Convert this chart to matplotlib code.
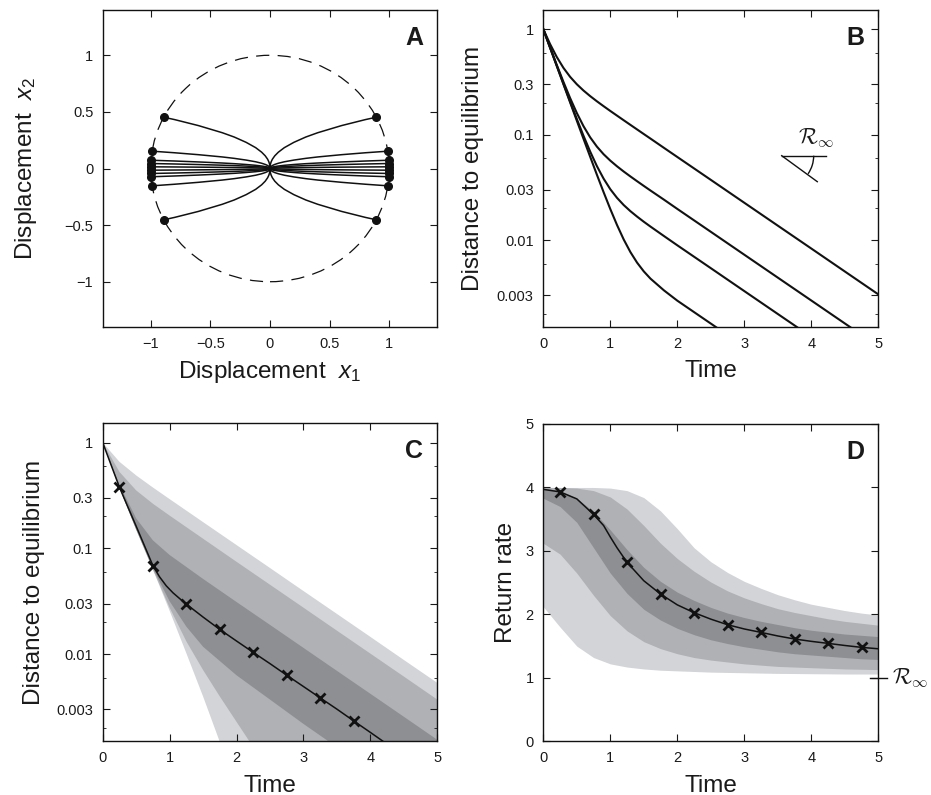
import matplotlib
matplotlib.use('Agg')
import matplotlib.pyplot as plt
from matplotlib.patches import Circle, Arc
from matplotlib.ticker import FixedLocator, NullFormatter

plt.rcParams['font.family'] = ['Liberation Sans', 'DejaVu Sans']
plt.rcParams['mathtext.fontset'] = 'custom'
plt.rcParams['mathtext.rm'] = 'Liberation Sans'
plt.rcParams['mathtext.it'] = 'Liberation Sans:italic'
plt.rcParams['lines.scale_dashes'] = False

# ---------------- Panel A data (upper-right quadrant; mirrored) ----------------
a_x1 = [0.8, 0.6, 0.4, 0.3, 0.2, 0.12, 0.07, 0.04, 0.02, 0.01, 0.004, 0.001, 0.0002, 0.0]
a_start_x = [0.891, 0.988, 0.997, 0.999, 1.0]
a_start_y = [0.453, 0.153, 0.073, 0.044, 0.015]
a_curve1 = [0.432, 0.379, 0.316, 0.278, 0.231, 0.184, 0.144, 0.112, 0.082, 0.060, 0.040, 0.0213, 0.0103, 0.0]
a_curve2 = [0.139, 0.122, 0.102, 0.0896, 0.0744, 0.0593, 0.0464, 0.0361, 0.0264, 0.0193, 0.0129, 0.0069, 0.0033, 0.0]
a_curve3 = [0.0661, 0.058, 0.0484, 0.0426, 0.0354, 0.0282, 0.0220, 0.0171, 0.0126, 0.0092, 0.0061, 0.0033, 0.0016, 0.0]
a_curve4 = [0.0399, 0.035, 0.0292, 0.0257, 0.0213, 0.0170, 0.0133, 0.0103, 0.0076, 0.0055, 0.0037, 0.0020, 0.0010, 0.0]
a_curve5 = [0.0136, 0.0119, 0.0100, 0.0088, 0.0073, 0.0058, 0.0045, 0.0035, 0.0026, 0.0019, 0.0013, 0.0007, 0.0003, 0.0]
a_curves = [a_curve1, a_curve2, a_curve3, a_curve4, a_curve5]
a_ticks = [-1, -0.5, 0, 0.5, 1]
a_ticklabels = ['\u22121', '\u22120.5', '0', '0.5', '1']

# ---------------- Panel B data ----------------
b_t = [0, 0.1, 0.2, 0.3, 0.4, 0.5, 0.6, 0.7, 0.8, 0.9, 1.0, 1.1, 1.2, 1.3, 1.4, 1.5, 1.6, 1.8,
       2.0, 2.5, 3.0, 3.5, 4.0, 4.5, 5.0]
b_d1 = [1, 0.7248, 0.5463, 0.4302, 0.3534, 0.3006, 0.2619, 0.2318, 0.2071, 0.1861, 0.1677, 0.1515,
        0.1369, 0.1238, 0.1120, 0.1013, 0.0917, 0.0750, 0.0614, 0.03727, 0.0226, 0.01371, 0.00832,
        0.005044, 0.003059]
b_d2 = [1, 0.6761, 0.4603, 0.3170, 0.2224, 0.1605, 0.1203, 0.0942, 0.0770, 0.0652, 0.0567, 0.0501,
        0.0447, 0.04015, 0.03617, 0.03265, 0.02951, 0.0242, 0.01976, 0.01199, 0.00727, 0.004409,
        0.002675, 0.001622, 0.000984]
b_d3 = [1, 0.6715, 0.4516, 0.3045, 0.2062, 0.1409, 0.0975, 0.0690, 0.0503, 0.03826, 0.03038, 0.02516,
        0.0215, 0.01881, 0.0167, 0.01493, 0.01343, 0.01094, 0.00893, 0.00542, 0.003286, 0.001993,
        0.001209, 0.000733, 0.000445]
b_d4 = [1, 0.6704, 0.4495, 0.3014, 0.2023, 0.1358, 0.09135, 0.0616, 0.04168, 0.02848, 0.0197, 0.01392,
        0.01014, 0.00770, 0.00611, 0.00505, 0.00431, 0.00334, 0.002666, 0.001617, 0.000981, 0.000595,
        0.000361, 0.000219, 0.000133]
log_ticks = [0.003, 0.01, 0.03, 0.1, 0.3, 1]
log_ticklabels = ['0.003', '0.01', '0.03', '0.1', '0.3', '1']
log_minor = [0.002, 0.006, 0.02, 0.06, 0.2, 0.6]
time_ticks = [0, 1, 2, 3, 4, 5]

# ---------------- Panel C data ----------------
c_up_t = [0, 0.25, 0.5, 0.75, 1, 1.5, 2, 2.5, 3, 3.5, 4, 4.5, 5]
c_up3 = [1, 0.658, 0.489, 0.376, 0.292, 0.177, 0.1074, 0.0652, 0.0395, 0.0240, 0.01456, 0.00881, 0.00535]
c_up2 = [1, 0.528, 0.353, 0.264, 0.204, 0.1233, 0.0746, 0.0453, 0.0275, 0.01667, 0.01012, 0.00614, 0.00372]
c_up1 = [1, 0.400, 0.192, 0.119, 0.0865, 0.0514, 0.0311, 0.0189, 0.01146, 0.00695, 0.00422, 0.00256, 0.00155]
c_lo1_t = [0, 0.25, 0.5, 0.75, 1, 1.25, 1.5, 2, 2.5, 3, 3.5, 5]
c_lo1 = [1, 0.372, 0.151, 0.0646, 0.0316, 0.0182, 0.01175, 0.00631, 0.00372, 0.00219, 0.00132, 0.0003]
c_lo2_t = [0, 0.25, 0.5, 0.75, 1, 1.25, 1.5, 1.75, 2.0, 2.25, 5]
c_lo2 = [1, 0.372, 0.151, 0.0631, 0.0275, 0.0132, 0.00708, 0.00398, 0.00229, 0.00132, 0.0001]
c_lo3_t = [0, 0.25, 0.5, 0.75, 1, 1.25, 1.5, 1.75, 1.85, 5]
c_lo3 = [1, 0.372, 0.151, 0.0631, 0.0257, 0.0102, 0.00398, 0.00148, 0.001, 0.00001]
c_med_t = [0, 0.25, 0.5, 0.75, 0.85, 0.95, 1.05, 1.15, 1.25, 1.5, 1.75, 2.0, 2.25, 2.5, 2.75, 3.0,
           3.25, 3.5, 3.75, 4.0, 4.25]
c_med = [1, 0.378, 0.162, 0.0686, 0.0537, 0.0442, 0.0380, 0.0335, 0.0297, 0.0224, 0.0171, 0.0133,
         0.01038, 0.00813, 0.00632, 0.00494, 0.00386, 0.00302, 0.00234, 0.00182, 0.00141]
c_mark_t = [0.25, 0.75, 1.25, 1.75, 2.25, 2.75, 3.25, 3.75]
c_mark = [0.378, 0.0686, 0.0297, 0.0171, 0.01038, 0.00632, 0.00386, 0.00234]

# ---------------- Panel D data ----------------
d_t = [0, 0.25, 0.5, 0.75, 1.0, 1.25, 1.5, 1.75, 2.0, 2.25, 2.5, 2.75, 3.0, 3.25, 3.5, 3.75, 4.0,
       4.25, 4.5, 4.75, 5.0]
d_up3 = [4.0, 4.0, 4.0, 4.0, 3.99, 3.95, 3.84, 3.63, 3.35, 3.05, 2.83, 2.66, 2.52, 2.41, 2.31, 2.23,
         2.16, 2.11, 2.06, 2.02, 1.99]
d_up2 = [4.0, 4.0, 3.99, 3.95, 3.85, 3.66, 3.40, 3.12, 2.88, 2.68, 2.51, 2.37, 2.26, 2.17, 2.09, 2.03,
         1.98, 1.93, 1.89, 1.86, 1.83]
d_up1 = [3.99, 3.95, 3.83, 3.62, 3.33, 3.02, 2.74, 2.52, 2.35, 2.22, 2.11, 2.02, 1.95, 1.89, 1.84, 1.79,
         1.75, 1.72, 1.69, 1.67, 1.65]
d_lo1 = [3.83, 3.70, 3.45, 3.05, 2.65, 2.33, 2.08, 1.91, 1.78, 1.68, 1.60, 1.54, 1.49, 1.45, 1.41, 1.38,
         1.36, 1.34, 1.32, 1.30, 1.29]
d_lo2 = [3.12, 2.95, 2.65, 2.30, 1.98, 1.74, 1.57, 1.46, 1.38, 1.32, 1.28, 1.25, 1.22, 1.20, 1.18, 1.17,
         1.16, 1.15, 1.14, 1.135, 1.13]
d_lo3 = [2.12, 1.80, 1.50, 1.32, 1.22, 1.17, 1.14, 1.12, 1.11, 1.10, 1.09, 1.085, 1.08, 1.075, 1.07,
         1.068, 1.065, 1.063, 1.06, 1.06, 1.06]
d_med_t = [0, 0.25, 0.5, 0.75, 0.9, 1.0, 1.1, 1.25, 1.5, 1.75, 2.0, 2.25, 2.5, 2.75, 3.0, 3.25, 3.5,
           3.75, 4.0, 4.25, 4.5, 4.75, 5.0]
d_med = [3.97, 3.93, 3.82, 3.575, 3.40, 3.22, 3.05, 2.82, 2.53, 2.32, 2.15, 2.027, 1.925, 1.837, 1.77,
         1.716, 1.66, 1.612, 1.575, 1.543, 1.51, 1.48, 1.458]
d_mark_t = [0.25, 0.75, 1.25, 1.75, 2.25, 2.75, 3.25, 3.75, 4.25, 4.75]
d_mark = [3.93, 3.575, 2.82, 2.32, 2.027, 1.837, 1.716, 1.612, 1.543, 1.48]
r_inf = 1.0

LIGHT = '#d3d4d7'
MID = '#b0b1b4'
DARK = '#8e8f92'
TXT = '#1a1a1a'

fig = plt.figure(figsize=(9.31, 7.95), dpi=100)
W, H = 931.0, 795.0
axA = fig.add_axes([103 / W, 1 - 327 / H, 334 / W, 317 / H])
axB = fig.add_axes([543.3 / W, 1 - 327 / H, 335 / W, 317 / H])
axC = fig.add_axes([102.7 / W, 1 - 741.3 / H, 334.6 / W, 318 / H])
axD = fig.add_axes([543.3 / W, 1 - 741.3 / H, 335 / W, 317.3 / H])


def style(ax):
    ax.tick_params(which='both', direction='in', top=True, right=True, labelsize=10.5,
                   pad=7, colors=TXT)
    ax.tick_params(which='major', length=5, width=0.8)
    ax.tick_params(which='minor', length=2.5, width=0.6)
    for sp in ax.spines.values():
        sp.set_linewidth(1.0)
        sp.set_color('#111111')


def panel_letter(ax, s):
    ax.text(0.958, 0.912, s, transform=ax.transAxes, ha='right', va='center',
            fontsize=18, fontweight='bold', color=TXT)


LABEL_FS = 17.5

# ---------------- Panel A ----------------
axA.add_patch(Circle((0, 0), 1.0, fill=False, lw=0.9, color='#111111',
                     linestyle=(0, (9.5, 6.0))))
for sx0, sy0, ys in zip(a_start_x, a_start_y, a_curves):
    xs = [sx0] + a_x1
    yy = [sy0] + ys
    for mx in (1, -1):
        for my in (1, -1):
            axA.plot([mx * v for v in xs], [my * v for v in yy], color='#111111', lw=1.1)
            axA.plot([mx * sx0], [my * sy0], 'o', color='#111111', ms=5.5)
axA.set_xlim(-1.4, 1.4)
axA.set_ylim(-1.4, 1.4)
axA.set_xticks(a_ticks)
axA.set_xticklabels(a_ticklabels)
axA.set_yticks(a_ticks)
axA.set_yticklabels(a_ticklabels)
style(axA)
axA.set_xlabel(r'Displacement  $x_1$', fontsize=LABEL_FS, labelpad=6, color=TXT)
axA.set_ylabel(r'Displacement  $x_2$', fontsize=LABEL_FS, labelpad=18, color=TXT)
panel_letter(axA, 'A')

# ---------------- Panel B ----------------
for d in (b_d1, b_d2, b_d3, b_d4):
    axB.plot(b_t, d, color='#111111', lw=1.5)
axB.set_yscale('log')
axB.set_xlim(0, 5)
axB.set_ylim(0.0015, 1.52)
axB.yaxis.set_major_locator(FixedLocator(log_ticks))
axB.set_yticklabels(log_ticklabels)
axB.yaxis.set_minor_locator(FixedLocator(log_minor))
axB.yaxis.set_minor_formatter(NullFormatter())
axB.set_xticks(time_ticks)
style(axB)
axB.set_xlabel('Time', fontsize=LABEL_FS, labelpad=7, color=TXT)
axB.set_ylabel('Distance to equilibrium', fontsize=LABEL_FS, labelpad=9, color=TXT)
panel_letter(axB, 'B')
# slope annotation
vx, vy = 0.7116, 0.5404
axB.plot([vx, 0.8439], [vy, vy], color='#111111', lw=1.0, transform=axB.transAxes)
axB.plot([vx, 0.8179], [vy, 0.4584], color='#111111', lw=1.0, transform=axB.transAxes)
axB.add_patch(Arc((vx, vy), 2 * 32 / 335, 2 * 32 / 317, theta1=-36, theta2=0,
                  transform=axB.transAxes, color='#111111', lw=1.0))
axB.text(0.814, 0.595, r'$\mathcal{R}_{\infty}$', transform=axB.transAxes, ha='center',
         va='center', fontsize=16, math_fontfamily='cm', color=TXT)

# ---------------- Panel C ----------------
for ut, ud, lt, ld, col in ((c_up_t, c_up3, c_lo3_t, c_lo3, LIGHT),
                            (c_up_t, c_up2, c_lo2_t, c_lo2, MID),
                            (c_up_t, c_up1, c_lo1_t, c_lo1, DARK)):
    axC.fill(list(ut) + list(lt)[::-1], list(ud) + list(ld)[::-1], color=col, lw=0)
axC.plot(c_med_t, c_med, color='#111111', lw=1.1)
axC.plot(c_mark_t, c_mark, 'x', color='#111111', ms=7, mew=2.0)
axC.set_yscale('log')
axC.set_xlim(0, 5)
axC.set_ylim(0.0015, 1.52)
axC.yaxis.set_major_locator(FixedLocator(log_ticks))
axC.set_yticklabels(log_ticklabels)
axC.yaxis.set_minor_locator(FixedLocator(log_minor))
axC.yaxis.set_minor_formatter(NullFormatter())
axC.set_xticks(time_ticks)
style(axC)
axC.set_xlabel('Time', fontsize=LABEL_FS, labelpad=7, color=TXT)
axC.set_ylabel('Distance to equilibrium', fontsize=LABEL_FS, labelpad=8, color=TXT)
panel_letter(axC, 'C')

# ---------------- Panel D ----------------
axD.fill_between(d_t, d_lo3, d_up3, color=LIGHT, lw=0)
axD.fill_between(d_t, d_lo2, d_up2, color=MID, lw=0)
axD.fill_between(d_t, d_lo1, d_up1, color=DARK, lw=0)
axD.plot(d_med_t, d_med, color='#111111', lw=1.1)
axD.plot(d_mark_t, d_mark, 'x', color='#111111', ms=7, mew=2.0)
axD.set_xlim(0, 5)
axD.set_ylim(0, 5)
axD.set_xticks(time_ticks)
axD.set_yticks([0, 1, 2, 3, 4, 5])
style(axD)
axD.set_xlabel('Time', fontsize=LABEL_FS, labelpad=7, color=TXT)
axD.set_ylabel('Return rate', fontsize=LABEL_FS, labelpad=6, color=TXT)
panel_letter(axD, 'D')
axD.plot([4.87, 5.13], [r_inf, r_inf], color='#111111', lw=1.0, clip_on=False)
axD.text(5.2, r_inf, r'$\mathcal{R}_{\infty}$', ha='left', va='center', fontsize=16,
         math_fontfamily='cm', color=TXT, clip_on=False)

fig.savefig('out.png', dpi=100)
